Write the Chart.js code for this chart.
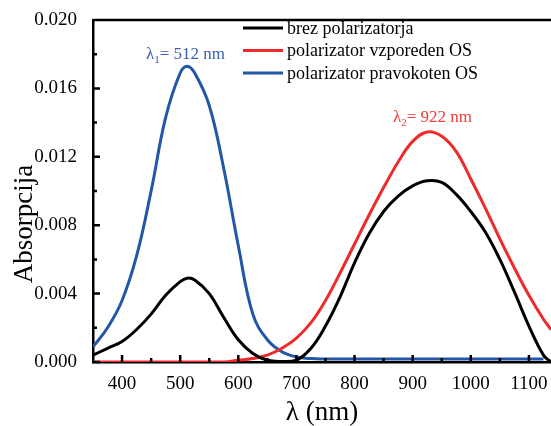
<!DOCTYPE html>
<html lang="sl">
<head>
<meta charset="UTF-8" />
<title>Absorpcija</title>
<script src="https://cdn.jsdelivr.net/npm/chart.js@4.4.0/dist/chart.umd.min.js"></script>
<style>
  html, body { margin: 0; padding: 0; background: #fff; }
  #wrap { width: 551px; height: 426px; }
</style>
</head>
<body>
<div id="wrap"><canvas id="spectrum" width="551" height="426"></canvas></div>
<script>
// wavelength grid (nm) shared by the three spectra
const wavelength = [350, 375, 400, 425, 450, 475, 500, 512, 525, 550, 575, 600, 625, 650, 675, 700,
  725, 750, 775, 800, 825, 850, 875, 900, 925, 950, 975, 1000, 1025, 1050, 1075, 1100, 1125, 1138];

const brez = [0.0004, 0.0008, 0.0012, 0.0019, 0.0028, 0.0039, 0.0047, 0.0049, 0.0048, 0.0040, 0.0026, 0.0013, 0.0005, 0.0001, 0.00003, 0.0001,
  0.0008, 0.0021, 0.0038, 0.0058, 0.0075, 0.0088, 0.0097, 0.0103, 0.0106, 0.0105, 0.0098, 0.0088, 0.0076, 0.0060, 0.0041, 0.0021, 0.0004, 0];

const vzporeden = [0, 0, 0, 0, 0, 0, 0, 0, 0, 0, 0, 0.0001, 0.0002, 0.0004, 0.0008, 0.0014,
  0.0023, 0.0036, 0.0052, 0.0069, 0.0086, 0.0102, 0.0117, 0.0129, 0.01345, 0.0132, 0.0123, 0.0107, 0.0090, 0.0072, 0.0055, 0.0039, 0.0025, 0.0019];

const pravokoten = [0.00088, 0.0020, 0.0036, 0.0062, 0.0100, 0.0143, 0.0169, 0.0173, 0.0169, 0.0150, 0.0113, 0.0068, 0.0028, 0.0013, 0.0006, 0.0003,
  0.0002, 0.00018, 0.00018, 0.00018, 0.00018, 0.00018, 0.00018, 0.00018, 0.00018, 0.00018, 0.00018, 0.00018, 0.00018, 0.00018, 0.00018, 0.00018, 0.00018, null];

const seriesLabels = ["brez polarizatorja", "polarizator vzporeden OS", "polarizator pravokoten OS"];
const seriesColors = ["#000000", "#ee2b2b", "#2257a8"];

const xTicks = [400, 500, 600, 700, 800, 900, 1000, 1100];
const xMinorTicks = [450, 550, 650, 750, 850, 950, 1050];
const yTicks = [0, 0.004, 0.008, 0.012, 0.016, 0.020];
const yMinorTicks = [0.002, 0.006, 0.010, 0.014, 0.018];

// peak labels: [main, subscript, rest, x (nm), y (absorbance), colour]
const peakNotes = [
  ["λ", "1", "= 512 nm", 441, 0.01772, "#3a60b3"],
  ["λ", "2", "= 922 nm", 866, 0.01404, "#ef3b3b"]
];

const serif = "'Liberation Serif', 'Times New Roman', serif";

function toPoints(ys) {
  return wavelength.map((w, i) => ({ x: w, y: ys[i] }));
}

// frame top line, inward tick marks and the y title
const frame = {
  id: "frame",
  afterDatasetsDraw(chart) {
    const { ctx, chartArea: a, scales: { x, y } } = chart;
    ctx.save();
    ctx.strokeStyle = "#000";
    ctx.lineWidth = 2.5;
    ctx.beginPath();
    ctx.moveTo(a.left, a.top);
    ctx.lineTo(a.right, a.top);
    xTicks.forEach(v => {
      const px = x.getPixelForValue(v);
      ctx.moveTo(px, a.bottom);
      ctx.lineTo(px, a.bottom - 7);
    });
    xMinorTicks.forEach(v => {
      const px = x.getPixelForValue(v);
      ctx.moveTo(px, a.bottom);
      ctx.lineTo(px, a.bottom - 4);
    });
    yTicks.forEach(v => {
      const py = y.getPixelForValue(v);
      ctx.moveTo(a.left, py);
      ctx.lineTo(a.left + 7, py);
    });
    yMinorTicks.forEach(v => {
      const py = y.getPixelForValue(v);
      ctx.moveTo(a.left, py);
      ctx.lineTo(a.left + 4, py);
    });
    ctx.stroke();

    // y axis title sits a bit below the middle in the original
    ctx.translate(25, 224);
    ctx.rotate(-Math.PI / 2);
    ctx.fillStyle = "#000";
    ctx.font = "27px " + serif;
    ctx.textAlign = "center";
    ctx.textBaseline = "middle";
    ctx.fillText("Absorpcija", 0, 0);
    ctx.restore();
  }
};

// legend inside the plot, top right
const insideLegend = {
  id: "insideLegend",
  afterDraw(chart) {
    const { ctx } = chart;
    ctx.save();
    ctx.font = "18px " + serif;
    ctx.textBaseline = "middle";
    ctx.textAlign = "left";
    chart.data.datasets.forEach((ds, i) => {
      const rowY = 28 + i * 22.5;
      ctx.strokeStyle = ds.borderColor;
      ctx.lineWidth = 3;
      ctx.beginPath();
      ctx.moveTo(243, rowY);
      ctx.lineTo(283, rowY);
      ctx.stroke();
      ctx.fillStyle = "#000";
      ctx.fillText(ds.label, 287, rowY + 1);
    });
    ctx.restore();
  }
};

// λ peak notes
const peaks = {
  id: "peaks",
  afterDraw(chart) {
    const { ctx, scales: { x, y } } = chart;
    ctx.save();
    ctx.textBaseline = "alphabetic";
    peakNotes.forEach(([main, sub, rest, nm, ab, colour]) => {
      let px = x.getPixelForValue(nm);
      const py = y.getPixelForValue(ab);
      ctx.fillStyle = colour;
      ctx.font = "17px " + serif;
      ctx.fillText(main, px, py);
      px += ctx.measureText(main).width;
      ctx.font = "11px " + serif;
      ctx.fillText(sub, px, py + 4);
      px += ctx.measureText(sub).width;
      ctx.font = "17px " + serif;
      ctx.fillText(rest, px, py);
    });
    ctx.restore();
  }
};

new Chart(document.getElementById("spectrum"), {
  type: "line",
  data: {
    datasets: [
      { label: seriesLabels[0], data: toPoints(brez), borderColor: seriesColors[0] },
      { label: seriesLabels[1], data: toPoints(vzporeden), borderColor: seriesColors[1] },
      { label: seriesLabels[2], data: toPoints(pravokoten), borderColor: seriesColors[2] }
    ]
  },
  options: {
    responsive: false,
    animation: false,
    layout: { padding: { top: 20, right: 0, left: 0, bottom: 0 } },
    elements: {
      line: { borderWidth: 3, tension: 0.4, fill: false },
      point: { radius: 0 }
    },
    plugins: {
      legend: { display: false },
      tooltip: { enabled: false }
    },
    scales: {
      x: {
        type: "linear",
        min: 350,
        max: 1138,
        afterBuildTicks: s => { s.ticks = xTicks.map(v => ({ value: v })); },
        afterFit: s => { s.height = 64; },
        grid: { display: false },
        border: { color: "#000", width: 2.5 },
        ticks: {
          color: "#000",
          padding: 3,
          maxRotation: 0,
          font: { family: serif, size: 19 },
          callback: v => String(v)
        },
        title: {
          display: true,
          text: "λ (nm)",
          color: "#000",
          padding: 0,
          font: { family: serif, size: 27, lineHeight: 1 }
        }
      },
      y: {
        min: 0,
        max: 0.02,
        afterBuildTicks: s => { s.ticks = yTicks.map(v => ({ value: v })); },
        afterFit: s => { s.width = 93; },
        grid: { display: false },
        border: { color: "#000", width: 2.5 },
        ticks: {
          color: "#000",
          padding: 8,
          font: { family: serif, size: 19 },
          callback: v => Number(v).toFixed(3)
        }
      }
    }
  },
  plugins: [frame, insideLegend, peaks]
});
</script>
</body>
</html>
